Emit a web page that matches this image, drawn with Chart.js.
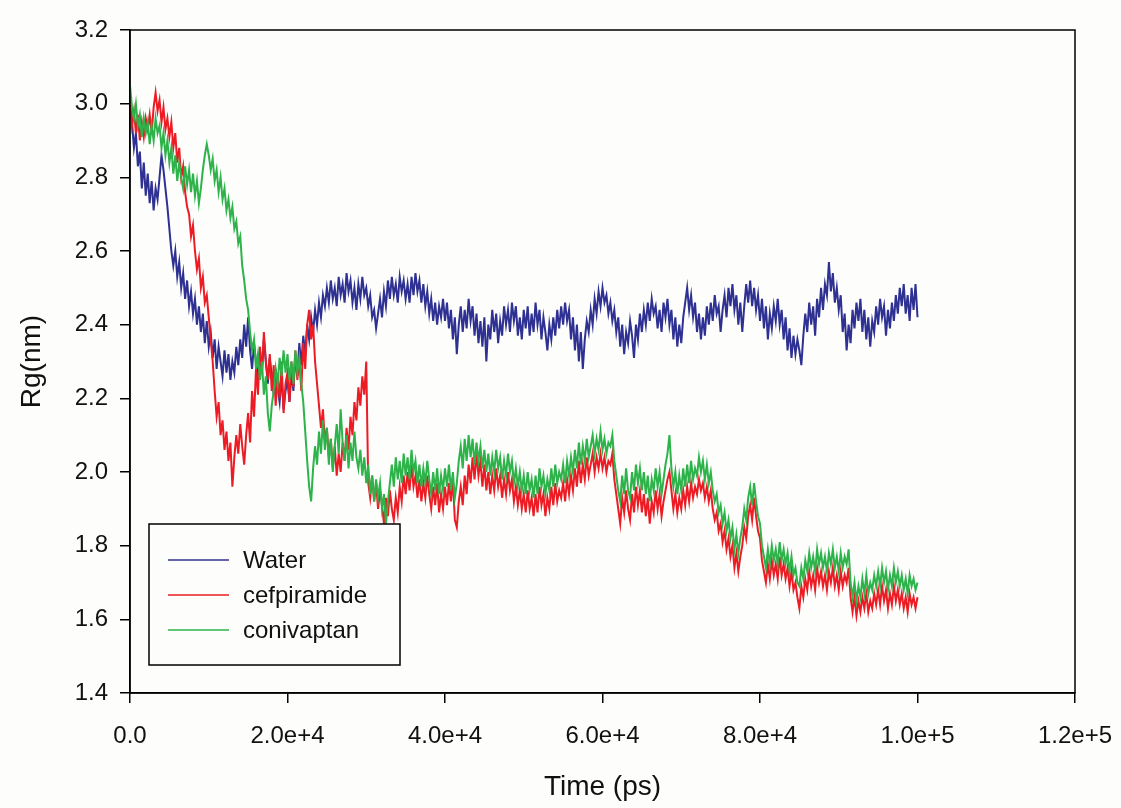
<!DOCTYPE html>
<html>
<head>
<meta charset="utf-8">
<script src="https://cdn.jsdelivr.net/npm/chart.js@4.4.1/dist/chart.umd.min.js"></script>
<style>
    html, body { margin: 0; padding: 0; background: #fdfdfc; }
    #wrap { width: 1121px; height: 808px; position: relative; }
</style>
</head>
<body>
<div id="wrap"><canvas id="rgChart" width="1121" height="808"></canvas></div>
<script>
// sampling step of the traces (ps)
const timeStep = 250;

// Rg (nm), one value every 250 ps from 0 to 100000 ps (20 values = 5 ns per row)
const water = [
    3.00, 2.95, 2.88, 2.92, 2.83, 2.87, 2.77, 2.84, 2.75, 2.81, 2.73, 2.79, 2.71, 2.77, 2.74, 2.80, 2.86, 2.82, 2.77, 2.72,
    2.66, 2.60, 2.56, 2.60, 2.53, 2.57, 2.50, 2.54, 2.47, 2.52, 2.45, 2.49, 2.43, 2.47, 2.40, 2.45, 2.38, 2.43, 2.35, 2.41,
    2.34, 2.38, 2.31, 2.36, 2.28, 2.34, 2.30, 2.26, 2.33, 2.27, 2.32, 2.25, 2.30, 2.27, 2.34, 2.29, 2.36, 2.31, 2.40, 2.34,
    2.42, 2.33, 2.28, 2.35, 2.30, 2.25, 2.33, 2.27, 2.36, 2.30, 2.24, 2.31, 2.26, 2.21, 2.28, 2.23, 2.19, 2.26, 2.17, 2.22,
    2.25, 2.19, 2.27, 2.22, 2.32, 2.26, 2.35, 2.29, 2.37, 2.32, 2.40, 2.36, 2.42, 2.38, 2.44, 2.40, 2.46, 2.42, 2.48, 2.45,
    2.50, 2.46, 2.52, 2.47, 2.50, 2.45, 2.53, 2.48, 2.51, 2.46, 2.54, 2.49, 2.52, 2.46, 2.50, 2.44, 2.51, 2.47, 2.53, 2.48,
    2.50, 2.45, 2.48, 2.42, 2.44, 2.39, 2.43, 2.47, 2.42, 2.49, 2.45, 2.52, 2.47, 2.53, 2.48, 2.51, 2.46, 2.53, 2.49, 2.52,
    2.47, 2.51, 2.46, 2.53, 2.48, 2.54, 2.49, 2.52, 2.46, 2.51, 2.45, 2.49, 2.43, 2.47, 2.41, 2.46, 2.40, 2.45, 2.42, 2.47,
    2.41, 2.46, 2.39, 2.44, 2.36, 2.42, 2.32, 2.40, 2.45, 2.38, 2.44, 2.39, 2.47, 2.41, 2.45, 2.37, 2.43, 2.35, 2.41, 2.34,
    2.42, 2.30, 2.40, 2.36, 2.44, 2.38, 2.43, 2.35, 2.41, 2.37, 2.45, 2.40, 2.44, 2.38, 2.46, 2.41, 2.45, 2.37, 2.42, 2.36,
    2.44, 2.39, 2.45, 2.37, 2.43, 2.38, 2.46, 2.40, 2.44, 2.36, 2.42, 2.38, 2.33, 2.40, 2.36, 2.42, 2.37, 2.44, 2.39, 2.45,
    2.40, 2.46, 2.41, 2.44, 2.36, 2.42, 2.33, 2.40, 2.30, 2.38, 2.28, 2.36, 2.41, 2.38, 2.44, 2.40, 2.47, 2.43, 2.49, 2.45,
    2.50, 2.46, 2.48, 2.43, 2.46, 2.41, 2.44, 2.38, 2.42, 2.34, 2.40, 2.32, 2.38, 2.35, 2.41, 2.37, 2.31, 2.40, 2.36, 2.43,
    2.38, 2.44, 2.40, 2.46, 2.41, 2.47, 2.43, 2.45, 2.39, 2.44, 2.38, 2.46, 2.42, 2.47, 2.40, 2.44, 2.36, 2.42, 2.34, 2.40,
    2.35, 2.42, 2.46, 2.50, 2.44, 2.48, 2.42, 2.46, 2.38, 2.43, 2.36, 2.42, 2.37, 2.45, 2.40, 2.46, 2.41, 2.48, 2.43, 2.45,
    2.38, 2.44, 2.48, 2.42, 2.50, 2.45, 2.51, 2.44, 2.48, 2.40, 2.46, 2.38, 2.45, 2.51, 2.46, 2.52, 2.45, 2.50, 2.44, 2.48,
    2.41, 2.47, 2.39, 2.45, 2.36, 2.43, 2.39, 2.45, 2.41, 2.47, 2.40, 2.44, 2.36, 2.42, 2.33, 2.39, 2.31, 2.37, 2.32, 2.36,
    2.33, 2.29, 2.37, 2.43, 2.38, 2.46, 2.40, 2.45, 2.37, 2.47, 2.42, 2.50, 2.44, 2.51, 2.48, 2.57, 2.49, 2.54, 2.46, 2.50,
    2.44, 2.48, 2.38, 2.43, 2.33, 2.40, 2.35, 2.44, 2.39, 2.46, 2.41, 2.47, 2.38, 2.44, 2.36, 2.42, 2.34, 2.41, 2.38, 2.45,
    2.40, 2.47, 2.42, 2.45, 2.37, 2.44, 2.39, 2.46, 2.41, 2.48, 2.43, 2.50, 2.45, 2.51, 2.43, 2.48, 2.41, 2.50, 2.44, 2.51,
    2.42
];

const cefpiramide = [
    3.00, 2.94, 2.98, 2.92, 2.97, 2.90, 2.95, 2.91, 2.96, 2.93, 2.97, 2.92, 2.99, 3.03, 2.98, 3.01, 2.95, 2.99, 2.93, 2.96,
    2.91, 2.95, 2.88, 2.92, 2.84, 2.88, 2.80, 2.83, 2.76, 2.72, 2.70, 2.64, 2.67, 2.60, 2.55, 2.58, 2.50, 2.53, 2.46, 2.48,
    2.42, 2.36, 2.30, 2.22, 2.15, 2.19, 2.10, 2.14, 2.06, 2.11, 2.03, 2.08, 1.96, 2.04, 2.10, 2.05, 2.13, 2.07, 2.02, 2.10,
    2.16, 2.08, 2.22, 2.15, 2.28, 2.21, 2.34, 2.27, 2.38, 2.30, 2.25, 2.32, 2.22, 2.29, 2.18, 2.26, 2.20, 2.30, 2.16, 2.24,
    2.27, 2.19, 2.30, 2.23, 2.33, 2.25, 2.31, 2.22, 2.35, 2.28, 2.40, 2.44, 2.36, 2.40, 2.30, 2.24, 2.18, 2.12, 2.17, 2.08,
    2.12, 2.04, 2.09, 2.01, 2.07, 1.99, 2.05, 2.00, 2.08, 2.03, 2.12, 2.06, 2.15, 2.10, 2.19, 2.14, 2.23, 2.18, 2.26, 2.21,
    2.30, 1.97, 1.93, 1.99, 1.92, 1.97, 1.90, 1.95, 1.91, 1.86, 1.93, 1.88, 1.95, 1.90, 1.87, 1.93, 1.89, 1.96, 1.92, 1.99,
    1.94, 2.00, 1.95, 2.02, 1.96, 1.99, 1.93, 1.98, 1.92, 1.97, 1.93, 1.99, 1.94, 1.90, 1.96, 1.91, 1.97, 1.89, 1.94, 1.90,
    1.96, 1.91, 1.97, 1.92, 1.98, 1.87, 1.85, 1.92, 1.96, 1.91, 1.99, 1.94, 2.02, 1.97, 2.04, 1.98, 2.05, 1.99, 2.03, 1.96,
    2.02, 1.95, 2.00, 1.94, 1.99, 1.95, 2.01, 1.96, 1.99, 1.93, 1.98, 1.94, 2.00, 1.95, 1.98, 1.92, 1.96, 1.91, 1.95, 1.90,
    1.94, 1.89, 1.95, 1.90, 1.93, 1.88, 1.94, 1.89, 1.96, 1.91, 1.94, 1.88, 1.93, 1.90, 1.96, 1.91, 1.97, 1.92, 1.95, 1.93,
    1.97, 1.92, 1.98, 1.94, 1.99, 1.95, 2.01, 1.96, 2.03, 1.97, 2.02, 1.98, 2.04, 1.99, 2.02, 2.05, 2.00, 2.04, 2.01, 2.05,
    2.01, 2.04, 2.00, 2.03, 2.02, 2.05, 1.98, 1.94, 1.90, 1.86, 1.93, 1.89, 1.95, 1.90, 1.87, 1.94, 1.89, 1.96, 1.91, 1.95,
    1.89, 1.94, 1.88, 1.93, 1.86, 1.92, 1.89, 1.95, 1.90, 1.94, 1.88, 1.92, 1.95, 1.98, 2.00, 1.95, 1.90, 1.94, 1.89, 1.93,
    1.90, 1.95, 1.91, 1.96, 1.92, 1.97, 1.93, 1.96, 1.94, 1.98, 1.95, 1.97, 1.93, 1.96, 1.92, 1.95, 1.90, 1.87, 1.89, 1.84,
    1.86, 1.81, 1.84, 1.79, 1.82, 1.77, 1.80, 1.74, 1.78, 1.73, 1.77, 1.80, 1.85, 1.82, 1.88, 1.91, 1.87, 1.93, 1.88, 1.84,
    1.82, 1.76, 1.73, 1.70, 1.75, 1.71, 1.76, 1.72, 1.75, 1.71, 1.77, 1.72, 1.75, 1.71, 1.74, 1.69, 1.73, 1.68, 1.70, 1.66,
    1.63, 1.69, 1.66, 1.71, 1.68, 1.73, 1.69, 1.72, 1.68, 1.74, 1.70, 1.73, 1.69, 1.72, 1.68, 1.73, 1.70, 1.74, 1.69, 1.72,
    1.68, 1.73, 1.69, 1.72, 1.70, 1.74, 1.66, 1.62, 1.66, 1.61, 1.65, 1.62, 1.66, 1.63, 1.67, 1.62, 1.65, 1.63, 1.67, 1.64,
    1.68, 1.64, 1.69, 1.65, 1.68, 1.63, 1.67, 1.64, 1.69, 1.65, 1.68, 1.64, 1.67, 1.63, 1.66, 1.62, 1.67, 1.64, 1.66, 1.63,
    1.66
];

const conivaptan = [
    3.05, 2.99, 2.96, 3.00, 2.94, 2.97, 2.91, 2.96, 2.92, 2.95, 2.89, 2.94, 2.90, 2.96, 2.92, 2.94, 2.88, 2.92, 2.86, 2.90,
    2.84, 2.88, 2.81, 2.86, 2.79, 2.84, 2.80, 2.77, 2.83, 2.78, 2.82, 2.76, 2.81, 2.75, 2.79, 2.73, 2.77, 2.82, 2.86, 2.89,
    2.86, 2.82, 2.85, 2.79, 2.82, 2.76, 2.80, 2.74, 2.77, 2.71, 2.74, 2.69, 2.72, 2.66, 2.68, 2.62, 2.64, 2.56, 2.52, 2.47,
    2.44, 2.38, 2.33, 2.36, 2.28, 2.32, 2.25, 2.30, 2.21, 2.26, 2.16, 2.11, 2.18, 2.22, 2.28, 2.24, 2.31, 2.26, 2.33, 2.27,
    2.32, 2.25, 2.30, 2.24, 2.33, 2.27, 2.31, 2.24, 2.19, 2.11, 2.03, 1.96, 1.92, 2.01, 2.07, 2.02, 2.11, 2.05, 2.14, 2.06,
    2.12, 2.02, 2.09, 2.00, 2.07, 2.13, 2.05, 2.17, 2.08, 2.03, 2.10, 2.01, 2.08, 2.03, 2.11, 2.04, 2.01, 2.06, 1.99, 2.04,
    1.97, 2.02, 1.94, 1.99, 1.92, 1.98, 1.93, 1.97, 1.90, 1.94, 1.86, 1.92, 1.97, 2.02, 1.96, 2.04, 1.98, 2.03, 1.97, 2.05,
    1.99, 2.04, 1.98, 2.06, 2.00, 2.03, 1.97, 2.02, 1.96, 2.01, 1.97, 2.03, 1.98, 1.94, 2.00, 1.95, 2.01, 1.94, 1.99, 1.95,
    2.01, 1.96, 2.02, 1.95, 2.00, 1.93, 1.97, 2.03, 2.07, 2.01, 2.09, 2.03, 2.10, 2.04, 2.09, 2.02, 2.08, 2.03, 2.07, 2.01,
    2.06, 2.00, 2.05, 1.99, 2.04, 2.00, 2.06, 2.01, 2.04, 1.98, 2.03, 1.99, 2.05, 2.00, 2.03, 1.97, 2.01, 1.96, 2.00, 1.95,
    1.99, 1.94, 2.00, 1.95, 1.98, 1.93, 1.99, 1.94, 2.01, 1.96, 1.99, 1.94, 1.98, 1.95, 2.01, 1.96, 2.02, 1.97, 2.00, 1.98,
    2.02, 1.97, 2.03, 1.99, 2.04, 2.00, 2.06, 2.01, 2.08, 2.02, 2.07, 2.03, 2.09, 2.04, 2.07, 2.10, 2.05, 2.09, 2.06, 2.11,
    2.06, 2.09, 2.05, 2.08, 2.07, 2.10, 2.03, 1.99, 1.95, 1.92, 1.99, 1.94, 2.01, 1.95, 1.93, 2.00, 1.95, 2.02, 1.97, 2.01,
    1.95, 2.00, 1.94, 1.99, 1.92, 1.98, 1.95, 2.01, 1.96, 2.00, 1.94, 1.98, 2.02, 2.05, 2.10, 2.01, 1.96, 2.00, 1.94, 1.99,
    1.95, 2.01, 1.96, 2.02, 1.97, 2.03, 1.98, 2.01, 1.99, 2.04, 2.00, 2.03, 1.98, 2.02, 1.97, 2.00, 1.95, 1.92, 1.94, 1.89,
    1.91, 1.86, 1.89, 1.84, 1.87, 1.82, 1.85, 1.79, 1.83, 1.78, 1.82, 1.85, 1.90, 1.87, 1.93, 1.96, 1.91, 1.97, 1.92, 1.88,
    1.86, 1.80, 1.77, 1.74, 1.79, 1.75, 1.80, 1.76, 1.79, 1.75, 1.81, 1.76, 1.79, 1.75, 1.78, 1.73, 1.77, 1.72, 1.74, 1.70,
    1.69, 1.74, 1.71, 1.76, 1.73, 1.78, 1.74, 1.77, 1.73, 1.79, 1.75, 1.78, 1.74, 1.77, 1.73, 1.78, 1.75, 1.79, 1.74, 1.77,
    1.73, 1.78, 1.74, 1.77, 1.75, 1.79, 1.70, 1.66, 1.70, 1.65, 1.69, 1.66, 1.71, 1.67, 1.72, 1.67, 1.70, 1.68, 1.72, 1.69,
    1.73, 1.69, 1.74, 1.70, 1.73, 1.68, 1.72, 1.69, 1.74, 1.70, 1.73, 1.69, 1.72, 1.68, 1.71, 1.67, 1.72, 1.69, 1.71, 1.68,
    1.70
];

const seriesLabels = ['Water', 'cefpiramide', 'conivaptan'];
const seriesColors = ['#2e3192', '#ed1c24', '#2db34a'];

const fontFamily = '"Liberation Sans", Arial, sans-serif';

// pair each value with its time stamp
function toPoints(values) {
    return values.map((v, i) => ({ x: i * timeStep, y: v }));
}

// box round the plot area (top and right edges)
const frame = {
    id: 'frame',
    afterDraw(chart) {
        const { ctx, chartArea } = chart;
        ctx.save();
        ctx.strokeStyle = '#000';
        ctx.lineWidth = 1.5;
        ctx.strokeRect(chartArea.left, chartArea.top, chartArea.right - chartArea.left, chartArea.bottom - chartArea.top);
        ctx.restore();
    }
};

// legend box in the lower left of the plot
const boxLegend = {
    id: 'boxLegend',
    afterDraw(chart) {
        const ctx = chart.ctx;
        const x = Math.round(chart.scales.x.getPixelForValue(2400));
        const y = Math.round(chart.scales.y.getPixelForValue(1.859));
        const w = 251, h = 141;
        ctx.save();
        ctx.fillStyle = '#fdfdfc';
        ctx.fillRect(x, y, w, h);
        ctx.strokeStyle = '#000';
        ctx.lineWidth = 1.5;
        ctx.strokeRect(x, y, w, h);
        ctx.font = '24px ' + fontFamily;
        ctx.textBaseline = 'middle';
        chart.data.datasets.forEach((ds, i) => {
            const rowY = y + 36 + i * 35;
            ctx.strokeStyle = ds.borderColor;
            ctx.lineWidth = 1.5;
            ctx.beginPath();
            ctx.moveTo(x + 19, rowY);
            ctx.lineTo(x + 80, rowY);
            ctx.stroke();
            ctx.fillStyle = '#111';
            ctx.fillText(ds.label, x + 94, rowY + 1);
        });
        ctx.restore();
    }
};

const ctx = document.getElementById('rgChart').getContext('2d');
const rgChart = new Chart(ctx, {
    type: 'line',
    data: {
        datasets: [water, cefpiramide, conivaptan].map((vals, i) => ({
            label: seriesLabels[i],
            data: toPoints(vals),
            borderColor: seriesColors[i],
            borderWidth: 2,
            pointRadius: 0,
            tension: 0,
            fill: false,
            order: 2 - i // conivaptan drawn on top
        }))
    },
    options: {
        responsive: false,
        animation: false,
        layout: { padding: { top: 30, right: 46, bottom: 0, left: 0 } },
        plugins: {
            legend: { display: false },
            tooltip: { enabled: false }
        },
        scales: {
            x: {
                type: 'linear',
                min: 0,
                max: 120000,
                afterFit: (scale) => {
                    scale.height = 115;
                    scale.paddingLeft = 0;
                    scale.paddingRight = 0;
                },
                border: { display: true, color: '#000', width: 1.5 },
                grid: { drawOnChartArea: false, drawTicks: true, tickLength: 10, color: '#000', lineWidth: 1.5 },
                ticks: {
                    stepSize: 20000,
                    maxRotation: 0,
                    padding: 19,
                    color: '#111',
                    font: { family: fontFamily, size: 24 },
                    callback: (v) => v === 0 ? '0.0' : Number(v).toExponential(1)
                },
                title: {
                    display: true,
                    text: 'Time (ps)',
                    color: '#111',
                    font: { family: fontFamily, size: 28 },
                    padding: { top: 0, bottom: 4 }
                }
            },
            y: {
                type: 'linear',
                min: 1.4,
                max: 3.2,
                afterFit: (scale) => { scale.width = 130; },
                border: { display: true, color: '#000', width: 1.5 },
                grid: { drawOnChartArea: false, drawTicks: true, tickLength: 10, color: '#000', lineWidth: 1.5 },
                ticks: {
                    stepSize: 0.2,
                    padding: 12,
                    color: '#111',
                    font: { family: fontFamily, size: 24 },
                    callback: (v) => Number(v).toFixed(1)
                },
                title: {
                    display: true,
                    text: 'Rg(nm)',
                    color: '#111',
                    font: { family: fontFamily, size: 28 },
                    padding: { top: 15, bottom: 0 }
                }
            }
        }
    },
    plugins: [frame, boxLegend]
});
</script>
</body>
</html>
